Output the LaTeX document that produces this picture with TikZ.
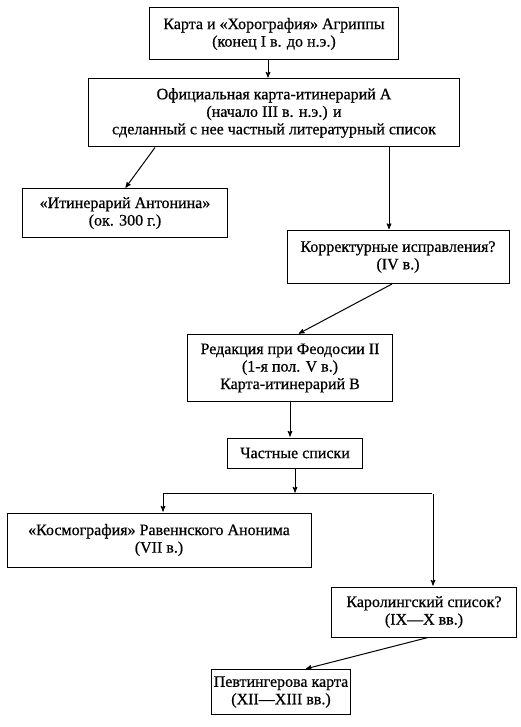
\documentclass[tikz,border=0pt]{standalone}
\usepackage{fontspec}
\setmainfont{Liberation Serif}
\newfontfamily\bookfont{Liberation Serif}[FakeBold=0.6]
\usetikzlibrary{
        arrows,
        positioning
    }
\tikzset{>=stealth',shorten >=1pt,auto}
\tikzset{blk/.style={draw,line width=1pt,align=center,inner sep=2pt,
    font=\bookfont\fontsize{16}{17.5}\selectfont}}

\begin{document}
\begin{tikzpicture}[x=1pt,y=-1pt,line width=1pt]
        \useasboundingbox (0,0) rectangle (521,727);
        \node[blk,minimum width=249pt,minimum height=52pt] (agr) at (274,34)
            {Карта и «Хорография» Агриппы\\(конец I в. до н.э.)};
        \node[blk,minimum width=371pt,minimum height=68pt] (off) at (274,113)
            {Официальная карта-итинерарий А\\(начало III в. н.э.) и\\сделанный с нее частный литературный список};
        \node[blk,minimum width=205pt,minimum height=48pt] (ant) at (125,213)
            {«Итинерарий Антонина»\\(ок. 300 г.)};
        \node[blk,minimum width=222pt,minimum height=53pt] (kor) at (398,257)
            {Корректурные исправления?\\(IV в.)};
        \node[blk,minimum width=205pt,minimum height=67pt] (red) at (290,368)
            {Редакция при Феодосии II\\(1-я пол. V в.)\\Карта-итинерарий В};
        \node[blk,minimum width=135pt,minimum height=30pt] (chs) at (295,453)
            {Частные списки};
        \node[blk,minimum width=304pt,minimum height=54pt] (kos) at (159,540)
            {«Космография» Равеннского Анонима\\(VII в.)};
        \node[blk,minimum width=185pt,minimum height=50pt] (kar) at (424,612)
            {Каролингский список?\\(IX—X вв.)};
        \node[blk,minimum width=133pt,minimum height=45pt] (pev) at (281,692)
            {Певтингерова карта\\(XII—XIII вв.)};
        \path (chs.south) ++(0,25) coordinate (jn);
        \coordinate (kosn) at ([xshift=4pt]kos.north);
        \coordinate (karn) at ([xshift=9pt]kar.north);
        \coordinate (korn) at ([xshift=-9pt]kor.north);
        \path[->]
            ([xshift=-6pt]agr.south)  edge  ([xshift=-6pt]off.north)
            ([xshift=-119pt]off.south)  edge  (ant.north)
            (off.south -| korn)  edge  (korn)
            ([xshift=-6pt]kor.south)  edge  ([xshift=8pt]red.north)
            (red.south)  edge  (red.south |- chs.north)
            (chs.south)  edge  (jn)
            (kosn |- jn)  edge  (kosn)
            (karn |- jn)  edge  (karn)
            ([xshift=4pt]kar.south)  edge  ([xshift=24pt]pev.north)
        ;
        \draw (kosn |- jn) -- (karn |- jn);
    \end{tikzpicture}
\end{document}
